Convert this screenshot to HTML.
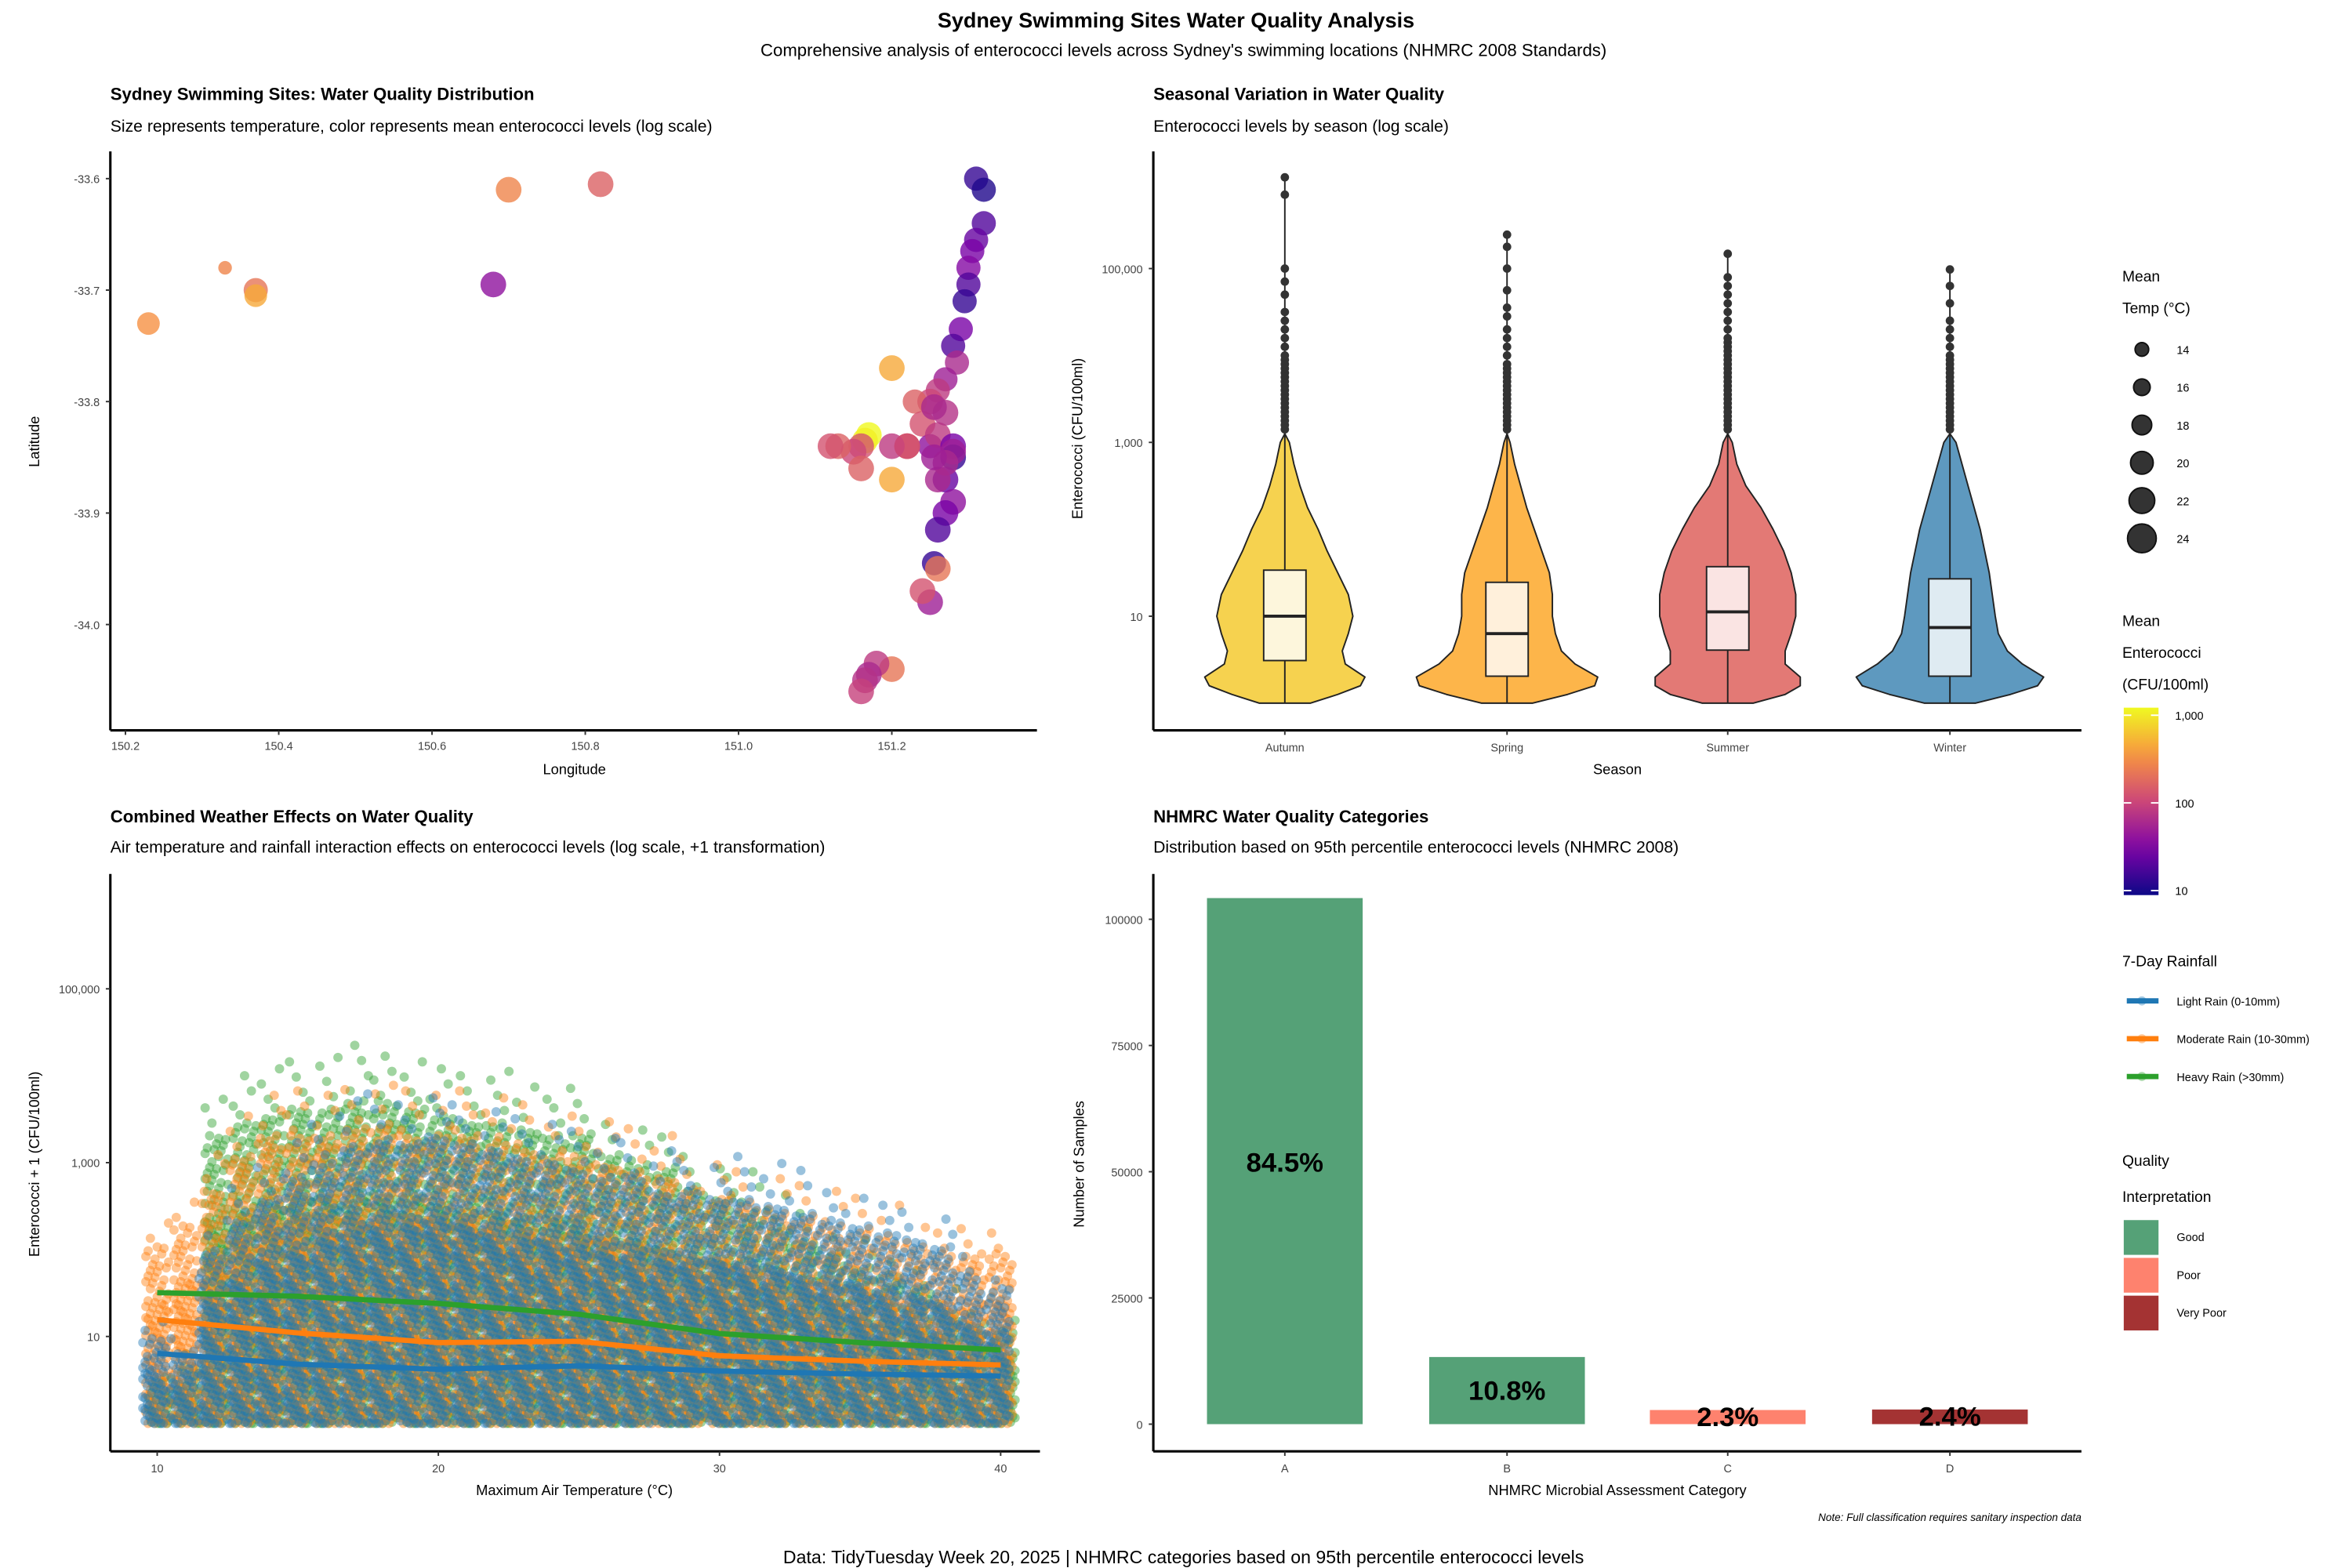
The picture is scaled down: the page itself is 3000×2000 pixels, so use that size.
<!DOCTYPE html>
<html><head><meta charset="utf-8"><style>
html,body{margin:0;padding:0;background:#fff}
svg{display:block;font-family:"Liberation Sans",sans-serif}
</style></head><body>
<svg id="s" width="3000" height="2000" viewBox="0 0 1556 1037" xmlns="http://www.w3.org/2000/svg">
<rect width="1556" height="1037" fill="#fff"/>
<text x="778" y="18" text-anchor="middle" font-size="14" font-weight="bold">Sydney Swimming Sites Water Quality Analysis</text>
<text x="783" y="37" text-anchor="middle" font-size="11.5">Comprehensive analysis of enterococci levels across Sydney's swimming locations (NHMRC 2008 Standards)</text>
<text x="73" y="66" font-size="11.5" font-weight="bold">Sydney Swimming Sites: Water Quality Distribution</text>
<text x="73" y="87" font-size="11">Size represents temperature, color represents mean enterococci levels (log scale)</text>
<text x="763" y="66" font-size="11.5" font-weight="bold">Seasonal Variation in Water Quality</text>
<text x="763" y="87" font-size="11">Enterococci levels by season (log scale)</text>
<text x="73" y="544" font-size="11.5" font-weight="bold">Combined Weather Effects on Water Quality</text>
<text x="73" y="564" font-size="11">Air temperature and rainfall interaction effects on enterococci levels (log scale, +1 transformation)</text>
<text x="763" y="544" font-size="11.5" font-weight="bold">NHMRC Water Quality Categories</text>
<text x="763" y="564" font-size="11">Distribution based on 95th percentile enterococci levels (NHMRC 2008)</text>
<text x="1377" y="1006" text-anchor="end" font-size="7" font-style="italic">Note: Full classification requires sanitary inspection data</text>
<text x="783" y="1034" text-anchor="middle" font-size="12">Data: TidyTuesday Week 20, 2025 | NHMRC categories based on 95th percentile enterococci levels</text>
<g id="g"></g>
</svg>
<script>
// ---- data ----
const siteLon=[150.23,150.33,150.37,150.37,150.68,150.70,150.82,151.31,151.32,151.32,151.31,151.305,151.30,151.30,151.295,151.29,151.28,151.285,151.27,151.26,151.25,151.23,151.24,151.22,151.20,151.25,151.26,151.28,151.28,151.27,151.28,151.27,151.26,151.255,151.26,151.25,151.24,151.22,151.20,151.17,151.165,151.16,151.15,151.13,151.12,151.16,151.20,151.26,151.28,151.27,151.27,151.255,151.255,151.20,151.18,151.17,151.165,151.16,151.22];
const siteLat=[-33.73,-33.68,-33.70,-33.705,-33.695,-33.61,-33.605,-33.60,-33.61,-33.64,-33.655,-33.665,-33.68,-33.695,-33.71,-33.735,-33.75,-33.765,-33.78,-33.79,-33.80,-33.80,-33.82,-33.84,-33.77,-33.84,-33.83,-33.84,-33.85,-33.87,-33.89,-33.90,-33.915,-33.945,-33.95,-33.98,-33.97,-33.84,-33.84,-33.83,-33.835,-33.84,-33.845,-33.84,-33.84,-33.86,-33.87,-33.87,-33.845,-33.855,-33.81,-33.805,-33.85,-34.04,-34.035,-34.045,-34.05,-34.06,-33.84];
const siteTemp=[20,14,21,20,22,22,22,21,21,21,21,21,21,21,21,21,21,21,21,21,22,21,22,22,22,21,22,22,22,22,22,22,22,21,22,22,22,22,22,22,22,22,22,22,22,22,22,22,22,22,22,22,22,22,22,22,22,22,22];
const siteMean=[300,250,200,400,40,250,150,15,12,20,25,30,35,20,15,30,20,60,50,80,100,150,120,100,400,40,80,30,15,25,40,30,20,15,200,50,120,300,80,1000,900,120,100,150,120,150,400,60,50,60,70,60,50,200,80,60,70,90,100];
const seasons=['Autumn','Spring','Summer','Winter'];
const vioLevels=[0,0.1,0.2,0.3,0.45,0.6,0.8,1,1.25,1.5,1.75,2,2.25,2.5,2.75,3,3.1];
const vioAutumn=[17,35,50,53,40,38,42,45,42,35,28,22,15,10,6,3,0];
const vioSpring=[17,40,58,60,45,36,32,30,30,28,23,18,13,9,5,2,0];
const vioSummer=[17,38,48,48,38,38,42,45,45,42,37,30,22,12,6,3,0];
const vioWinter=[17,40,58,62,48,38,32,30,28,26,23,20,16,12,8,4,0];
const boxQ1=[0.49,0.31,0.61,0.31], boxMed=[1.0,0.8,1.05,0.87], boxQ3=[1.53,1.39,1.57,1.43], whiskTop=[3.1,3.1,3.1,3.1];
const outMax=[6.05,5.39,5.17,4.99];
const outAutumn=[3.15,3.2,3.25,3.3,3.35,3.4,3.45,3.5,3.55,3.6,3.65,3.7,3.75,3.8,3.85,3.9,3.95,4.0,4.1,4.2,4.3,4.4,4.5,4.7,4.85,5.0,5.85,6.05];
const outSpring=[3.15,3.2,3.25,3.3,3.35,3.4,3.45,3.5,3.55,3.6,3.65,3.7,3.75,3.8,3.85,3.9,4.0,4.1,4.2,4.3,4.45,4.55,4.75,5.0,5.25,5.39];
const outSummer=[3.15,3.2,3.25,3.3,3.35,3.4,3.45,3.5,3.55,3.6,3.65,3.7,3.75,3.8,3.85,3.9,3.95,4.0,4.05,4.1,4.15,4.2,4.3,4.4,4.5,4.6,4.7,4.8,4.9,5.17];
const outWinter=[3.15,3.2,3.25,3.3,3.35,3.4,3.45,3.5,3.55,3.6,3.65,3.7,3.75,3.8,3.85,3.9,3.95,4.0,4.1,4.2,4.3,4.4,4.6,4.8,4.99];
const tempBins=[10,11,12,13,14,15,16,17,18,19,20,21,22,23,24,25,26,27,28,29,30,31,32,33,34,35,36,37,38,39,40];
const topLight=[1.2,1.0,2.3,2.8,3.1,3.3,3.5,3.7,3.8,3.8,3.9,3.8,3.7,3.6,3.5,3.4,3.3,3.3,3.2,3.2,3.1,3.1,3.0,2.9,2.8,2.7,2.6,2.5,2.4,2.0,1.8];
const topModerate=[2.4,2.7,3.2,3.6,3.9,3.9,3.9,4.0,4.0,3.9,3.9,3.9,3.8,3.7,3.6,3.6,3.5,3.4,3.3,3.2,3.1,3.0,2.9,2.8,2.7,2.6,2.5,2.4,2.3,2.3,2.3];
const topHeavy=[0.6,0.8,3.9,4.1,4.2,4.3,4.3,4.4,4.4,4.3,4.2,4.1,4.1,4.0,3.9,3.9,3.6,3.5,3.4,3.2,3.1,2.9,2.7,2.5,2.3,2.1,2.0,1.8,1.6,1.4,1.3];
const trendT=[10,15,20,25,30,35,40];
const trendLight=[6.4,4.8,4.2,4.6,4.0,3.7,3.5];
const trendModerate=[15.6,11,8.5,8.8,6,5.2,4.7];
const trendHeavy=[32,29,24,18,10.8,8.5,7];
const catLabels=['A','B','C','D'];
const catCounts=[104200,13300,2800,2900];
const catPct=['84.5%','10.8%','2.3%','2.4%'];
const catQuality=['Good','Good','Poor','Very Poor'];

// ---- helpers ----
const NS='http://www.w3.org/2000/svg', G=document.getElementById('g');
function el(tag,at,parent){const e=document.createElementNS(NS,tag);for(const k in at)e.setAttribute(k,at[k]);(parent||G).appendChild(e);return e;}
function txt(x,y,s,size,anchor,extra){const t=el('text',Object.assign({x:x,y:y,'font-size':size,'text-anchor':anchor||'start',fill:'#000'},extra||{}));t.textContent=s;return t;}
const plasmaStops=[[13,8,135],[126,3,168],[204,71,120],[248,149,64],[240,249,33]];
function plasma(t){t=Math.max(0,Math.min(1,t));const p=t*4,i=Math.min(3,Math.floor(p)),f=p-i,a=plasmaStops[i],b=plasmaStops[i+1];return 'rgb('+a.map((v,k)=>Math.round(v+(b[k]-v)*f)).join(',')+')';}
function axisLine(x1,y1,x2,y2,n){const l=el('line',{x1:x1,y1:y1,x2:x2,y2:y2,stroke:'#000','stroke-width':1.6});}

// ---- panel 1: map ----
const mx=v=>83+(v-150.2)*507, my=v=>118+(-33.6-v)*737.5;
axisLine(73,100,73,483,'map-y-axis');axisLine(73,483,686,483,'map-x-axis');
[150.2,150.4,150.6,150.8,151.0,151.2].forEach(v=>{const x=mx(v);el('line',{x1:x,y1:483,x2:x,y2:486,stroke:'#333'});const t=txt(x,496,v.toFixed(1),7.5,'middle',{fill:'#444'});});
[-33.6,-33.7,-33.8,-33.9,-34.0].forEach(v=>{const y=my(v);el('line',{x1:70,y1:y,x2:73,y2:y,stroke:'#333'});const t=txt(66,y+3,v.toFixed(1),7.5,'end',{fill:'#444'});});
let t1=txt(380,512,'Longitude',9.5,'middle');
t1=txt(26,292,'Latitude',9.5,'middle',{transform:'rotate(-90 26 292)'});
const rT=t=>4.5+(t-14)*0.5;
siteLon.forEach((lo,i)=>{const c=el('circle',{cx:mx(lo),cy:my(siteLat[i]),r:rT(siteTemp[i]),fill:plasma((Math.log10(siteMean[i])-1)/2),'fill-opacity':0.8});

});

// ---- panel 2: violins ----
const vy=l=>465-57.5*l, vxC=[850,997,1143,1290];
axisLine(763,100,763,483,'violin-y-axis');axisLine(763,483,1377,483,'violin-x-axis');
[[1,'10'],[3,'1,000'],[5,'100,000']].forEach(a=>{el('line',{x1:760,y1:vy(a[0]),x2:763,y2:vy(a[0]),stroke:'#333'});const t=txt(756,vy(a[0])+3,a[1],7.5,'end',{fill:'#444'});});
t1=txt(1070,512,'Season',9.5,'middle');
t1=txt(716,290,'Enterococci (CFU/100ml)',9.5,'middle',{transform:'rotate(-90 716 290)'});
const vioW=[vioAutumn,vioSpring,vioSummer,vioWinter], vioCol=['#F6D24F','#FDB54A','#E37975','#5E99BF'], outs=[outAutumn,outSpring,outSummer,outWinter];
seasons.forEach((s,i)=>{const cx=vxC[i],w=vioW[i];
  let d='M'+cx+','+vy(vioLevels[0]);
  vioLevels.forEach((l,k)=>{d+=' L'+(cx+w[k])+','+vy(l);});
  for(let k=vioLevels.length-1;k>=0;k--)d+=' L'+(cx-w[k])+','+vy(vioLevels[k]);
  const p=el('path',{d:d+'Z',fill:vioCol[i],stroke:'#222','stroke-width':1,'stroke-linejoin':'round'});
  
  
  el('line',{x1:cx,y1:vy(0),x2:cx,y2:vy(boxQ1[i]),stroke:'#222'});
  el('line',{x1:cx,y1:vy(boxQ3[i]),x2:cx,y2:vy(whiskTop[i]),stroke:'#222'});
  el('line',{x1:cx,y1:vy(whiskTop[i]),x2:cx,y2:vy(outMax[i]),stroke:'#222'});
  const b=el('rect',{x:cx-14,y:vy(boxQ3[i]),width:28,height:vy(boxQ1[i])-vy(boxQ3[i]),fill:'#fff','fill-opacity':0.8,stroke:'#222'});
  
  
  el('line',{x1:cx-14,y1:vy(boxMed[i]),x2:cx+14,y2:vy(boxMed[i]),stroke:'#222','stroke-width':2});
  outs[i].forEach(v=>{const o=el('circle',{cx:cx,cy:vy(v),r:2.8,fill:'#333'});});
  el('line',{x1:cx,y1:483,x2:cx,y2:486,stroke:'#333'});
  const t=txt(cx,497,s,7.5,'middle',{fill:'#444'});
});

// ---- panel 3: scatter ----
const sx=v=>104+(v-10)*18.6, sy=l=>941.5-57.5*l;
axisLine(73,578,73,960,'scatter-y-axis');axisLine(73,960,688,960,'scatter-x-axis');
[10,20,30,40].forEach(v=>{el('line',{x1:sx(v),y1:960,x2:sx(v),y2:963,stroke:'#333'});const t=txt(sx(v),974,String(v),7.5,'middle',{fill:'#444'});});
[[1,'10'],[3,'1,000'],[5,'100,000']].forEach(a=>{el('line',{x1:70,y1:sy(a[0]),x2:73,y2:sy(a[0]),stroke:'#333'});const t=txt(66,sy(a[0])+3,a[1],7.5,'end',{fill:'#444'});});
t1=txt(380,989,'Maximum Air Temperature (°C)',9.5,'middle');
t1=txt(26,770,'Enterococci + 1 (CFU/100ml)',9.5,'middle',{transform:'rotate(-90 26 770)'});
const serCol=['#1f77b4','#ff7f0e','#2ca02c'], serTop=[topLight,topModerate,topHeavy], serName=['light','moderate','heavy'];
const ptG=el('g',{});
[2,1,0].forEach(si=>{tempBins.forEach((t,bi)=>{const top=serTop[si][bi];let k=0;
  for(let l=0;l<=top;l+=0.08){const f=l/Math.max(top,0.1);const n=f<0.6?5:(f<0.85?3:1);
    for(let j=0;j<n;j++){k++;
    const jx=(((k*37+si*11+bi*5)%11)-5)*1.5;const jy=(((k*53+si*7)%5)-2)*0.015;
    if(f>0.85&&((k+bi)%2))continue;
    el('circle',{cx:sx(t)+jx+(si-1)*2,cy:sy(Math.max(0,l+jy)),r:3.1,fill:serCol[si],'fill-opacity':0.45},ptG);}}
  });});


[trendLight,trendModerate,trendHeavy].forEach((arr,si)=>{let d='';arr.forEach((v,i)=>{d+=(i?' L':'M')+sx(trendT[i])+','+sy(Math.log10(v));});
  const p=el('path',{d:d,fill:'none',stroke:serCol[si],'stroke-width':3.5,'stroke-linejoin':'round'});
  
  });

// ---- panel 4: bars ----
const by=v=>942-v*0.00334, bxC=[850,997,1143,1290];
axisLine(763,578,763,960,'bar-y-axis');axisLine(763,960,1377,960,'bar-x-axis');
[0,25000,50000,75000,100000].forEach(v=>{el('line',{x1:760,y1:by(v),x2:763,y2:by(v),stroke:'#333'});const t=txt(756,by(v)+3,String(v),7.5,'end',{fill:'#444'});});
t1=txt(1070,989,'NHMRC Microbial Assessment Category',9.5,'middle');
t1=txt(717,770,'Number of Samples',9.5,'middle',{transform:'rotate(-90 717 770)'});
const qCol={'Good':'#55A177','Poor':'#FE826E','Very Poor':'#A43333'};
catLabels.forEach((c,i)=>{const r=el('rect',{x:bxC[i]-51.5,y:by(catCounts[i]),width:103,height:by(0)-by(catCounts[i]),fill:qCol[catQuality[i]]});
  
  
  const ly=catCounts[i]>50000?by(catCounts[i]/2)+7:by(catCounts[i]/2)+6;
  const t=txt(bxC[i],ly,catPct[i],18,'middle',{'font-weight':'bold'});
  el('line',{x1:bxC[i],y1:960,x2:bxC[i],y2:963,stroke:'#333'});
  const t2=txt(bxC[i],974,c,7.5,'middle',{fill:'#444'});});

// ---- legends ----
const L=el('g',{});
function lt(x,y,s,sz){const t=el('text',{x:x,y:y,'font-size':sz},L);t.textContent=s;return t;}
lt(1404,186,'Mean',10);lt(1404,207,'Temp (°C)',10);
[14,16,18,20,22,24].forEach((v,i)=>{const y=231+i*25;el('circle',{cx:1417,cy:y,r:rT(v),fill:'#333',stroke:'#111'},L);lt(1440,y+3,String(v),7.5);});
lt(1404,414,'Mean',10);lt(1404,435,'Enterococci',10);lt(1404,456,'(CFU/100ml)',10);
const defs=el('defs',{});const lg=el('linearGradient',{id:'pl',x1:0,y1:1,x2:0,y2:0},defs);
for(let i=0;i<=10;i++)el('stop',{offset:i/10,'stop-color':plasma(i/10)},lg);
el('rect',{x:1405,y:468,width:23,height:124,fill:'url(#pl)'},L);
[[473,'1,000'],[531,'100'],[589,'10']].forEach(a=>{lt(1439,a[0]+3,a[1],7.5);el('line',{x1:1405,y1:a[0],x2:1410,y2:a[0],stroke:'#fff'},L);el('line',{x1:1423,y1:a[0],x2:1428,y2:a[0],stroke:'#fff'},L);});
lt(1404,639,'7-Day Rainfall',10);
['Light Rain (0-10mm)','Moderate Rain (10-30mm)','Heavy Rain (>30mm)'].forEach((s,i)=>{const y=662+i*25;el('line',{x1:1407,y1:y,x2:1428,y2:y,stroke:serCol[i],'stroke-width':3.5},L);el('circle',{cx:1417,cy:y,r:3,fill:serCol[i],'fill-opacity':0.4},L);lt(1440,y+3,s,7.5);});
lt(1404,771,'Quality',10);lt(1404,795,'Interpretation',10);
['Good','Poor','Very Poor'].forEach((s,i)=>{const y=807+i*25;el('rect',{x:1405,y:y,width:23,height:23,fill:qCol[s]},L);lt(1440,y+14,s,7.5);});
</script>
</body></html>
